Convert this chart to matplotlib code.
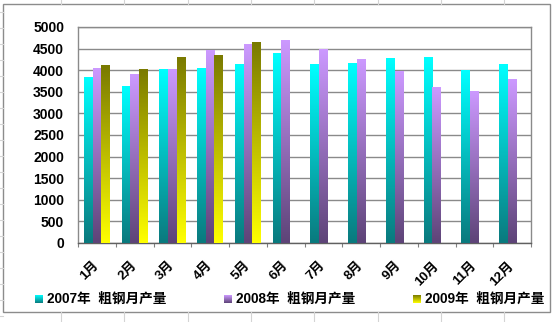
import numpy as np
import matplotlib
matplotlib.use("Agg")
import matplotlib.pyplot as plt
from matplotlib.patches import Rectangle
from matplotlib.colors import to_rgb
from matplotlib.transforms import ScaledTranslation

plt.rcParams['font.family'] = ['Liberation Sans', 'Noto Sans CJK SC', 'DejaVu Sans']

# Monthly crude steel output
months = ['1月', '2月', '3月', '4月', '5月', '6月', '7月', '8月', '9月', '10月', '11月', '12月']
output_2007 = [3845, 3625, 4030, 4050, 4150, 4395, 4135, 4175, 4290, 4305, 3995, 4150]
output_2008 = [4060, 3905, 4030, 4470, 4615, 4705, 4495, 4265, 3970, 3610, 3525, 3785]
output_2009 = [4120, 4030, 4315, 4350, 4655]
series_names = ['2007年  粗钢月产量', '2008年  粗钢月产量', '2009年  粗钢月产量']

# (top colour, bottom colour) of each series' vertical gradient
gradients = [('#00FFFF', '#0A7A7E'),
             ('#CC99FF', '#5E4478'),
             ('#7A7A00', '#FFFF00')]

W, H = 553, 322
fig = plt.figure(figsize=(W / 100, H / 100), dpi=100)
fig.patch.set_facecolor('white')

# spreadsheet cells around the chart object
bg = fig.add_axes([0, 0, 1, 1])
bg.set_xlim(0, W)
bg.set_ylim(H, 0)
bg.axis('off')
for x in np.arange(61, W, 63.3):
    bg.plot([x, x], [0, 4], color='#d4d4d4', lw=0.8)
    bg.plot([x, x], [312, H], color='#d4d4d4', lw=0.8)
for y in np.arange(12, H, 16):
    bg.plot([0, 3], [y, y], color='#d4d4d4', lw=0.8)
bg.add_patch(Rectangle((3, 4), 547, 308, fill=False, ec='#8c8c8c', lw=1.0))


def gradient_img(top, bottom, n=64):
    t = np.linspace(0, 1, n)[:, None]
    c0 = np.array(to_rgb(bottom))
    c1 = np.array(to_rgb(top))
    return (c0 * (1 - t) + c1 * t)[:, None, :]


ax = fig.add_axes([78 / W, 1 - 243 / H, (531 - 78) / W, (243 - 27) / H])
ax.set_xlim(0, 12)
ax.set_ylim(0, 5000)

width = 0.23
series = [output_2007, output_2008, output_2009]
for k, (vals, (top, bot)) in enumerate(zip(series, gradients)):
    xs = np.arange(len(vals)) + 0.5 + (k - 1) * width
    bars = ax.bar(xs, vals, width=width, color='none', edgecolor='none', zorder=3)
    img = gradient_img(top, bot)
    for b in bars:
        x0, w, h = b.get_x(), b.get_width(), b.get_height()
        im = ax.imshow(img, extent=[x0, x0 + w, 0, h], origin='lower',
                       aspect='auto', zorder=3, interpolation='bilinear')
        im.set_clip_path(b)

ax.set_xlim(0, 12)
ax.set_ylim(0, 5000)
ax.set_yticks(np.arange(0, 5001, 500))
ax.yaxis.grid(True, color='#8a8a8a', lw=1.0)
ax.set_axisbelow(True)
ax.tick_params(axis='y', length=0, pad=10, labelsize=10)
for lab in ax.get_yticklabels():
    lab.set_fontweight('bold')

ax.set_xticks(np.arange(0, 13))
ax.set_xticklabels([])
ax.tick_params(axis='x', which='major', length=3, direction='out', color='#808080')
ax.set_xticks(np.arange(12) + 0.5, minor=True)
ax.set_xticklabels(months, minor=True, rotation=45, ha='right',
                   rotation_mode='anchor', fontsize=9.5, fontweight='bold')
ax.tick_params(axis='x', which='minor', length=0, pad=12)
shift = ScaledTranslation(-4 / 100, 0, fig.dpi_scale_trans)
for lab in ax.get_xticklabels(minor=True):
    lab.set_transform(lab.get_transform() + shift)

for side in ('left', 'top', 'right'):
    ax.spines[side].set_color('#8a8a8a')
    ax.spines[side].set_linewidth(1.0)
ax.spines['bottom'].set_color('#606060')
ax.spines['bottom'].set_linewidth(1.0)

# legend row
legend_x = [35, 224, 413]
for name, (top, bot), lx in zip(series_names, gradients, legend_x):
    lax = fig.add_axes([lx / W, 1 - 303 / H, 8 / W, 8 / H])
    lax.imshow(gradient_img(top, bot), origin='lower', aspect='auto',
               extent=[0, 1, 0, 1], interpolation='bilinear')
    lax.axis('off')
    fig.text((lx + 12) / W, 1 - 298.5 / H, name, fontsize=9.8, fontweight='bold',
             va='center', ha='left')

fig.savefig('out.png', dpi=100)
